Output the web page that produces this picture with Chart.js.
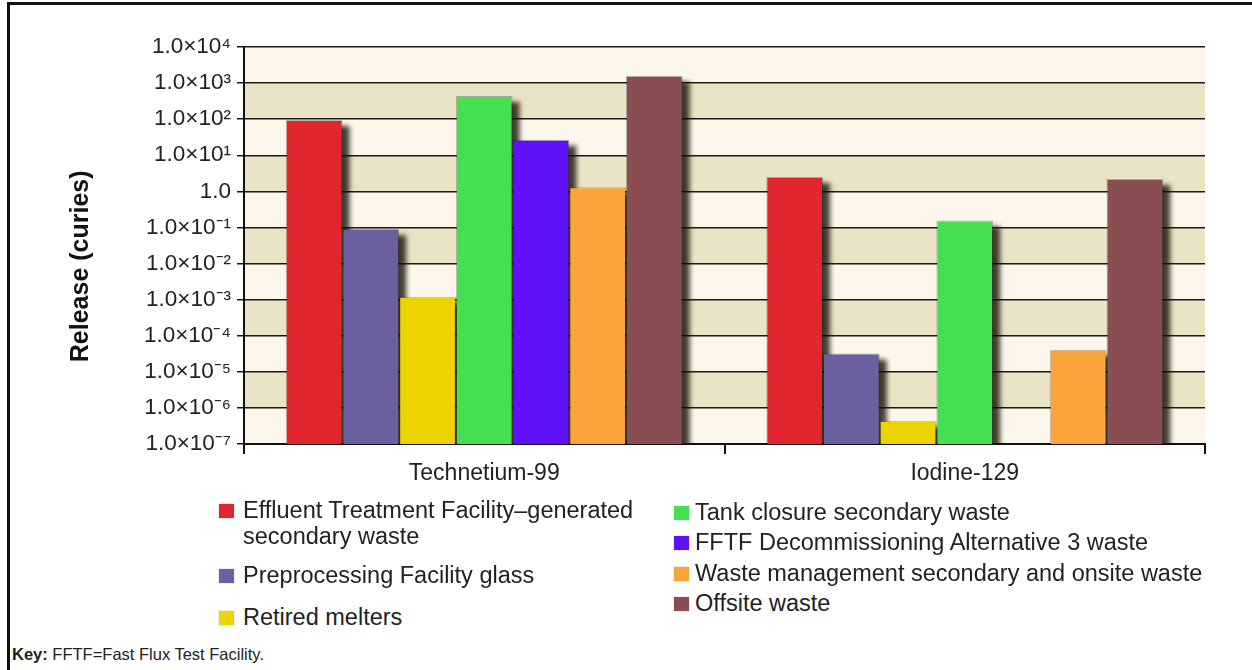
<!DOCTYPE html>
<html>
<head>
<meta charset="utf-8">
<script src="https://cdn.jsdelivr.net/npm/chart.js@4.4.1/dist/chart.umd.min.js"></script>
<style>
  html, body { margin: 0; padding: 0; background: #fff; }
  body { width: 1252px; height: 670px; position: relative; overflow: hidden; font-family: "Liberation Sans", Arial, sans-serif; color: #222; }
  #frame { position: absolute; left: 7px; top: 2px; width: 1300px; height: 700px; border-left: 3px solid #111; border-top: 3px solid #111; box-sizing: border-box; }
  #wrap { position: absolute; left: 0; top: 0; width: 1252px; height: 500px; }
  .lg { position: absolute; font-size: 23.5px; line-height: 26px; white-space: nowrap; color: #222; }
  .sw { position: absolute; width: 15px; height: 14px; box-shadow: 0 0 1px rgba(0,0,0,0.4); }
  #key { position: absolute; left: 12px; top: 645px; font-size: 16.5px; color: #222; }
</style>
</head>
<body>
<div id="frame"></div>
<div id="wrap"><canvas id="c" width="1252" height="500"></canvas></div>
<div id="legend"></div>
<div id="key"><b>Key:</b> FFTF=Fast Flux Test Facility.</div>
<script>
// ---- data ----
const categories = ['Technetium-99', 'Iodine-129'];
const seriesNames = [
  'Effluent Treatment Facility\u2013generated\nsecondary waste',
  'Preprocessing Facility glass',
  'Retired melters',
  'Tank closure secondary waste',
  'FFTF Decommissioning Alternative 3 waste',
  'Waste management secondary and onsite waste',
  'Offsite waste'
];
const seriesColors = ['#e2262e', '#6b5f9f', '#ecd400', '#45e04f', '#6010f6', '#fca43c', '#8a4d52'];
const effluentTreatment = [95, 2.5];
const preprocessingGlass = [0.09, 3.2e-5];
const retiredMelters = [1.2e-3, 4.4e-7];
const tankClosure = [440, 0.155];
const fftfDecommissioning = [27, null];
const wasteManagement = [1.3, 4.1e-5];
const offsiteWaste = [1600, 2.2];
const yTickValues = [1e-7, 1e-6, 1e-5, 1e-4, 1e-3, 1e-2, 1e-1, 1, 1e1, 1e2, 1e3, 1e4];
const yTickLabels = ['1.0\u00d710\u207b\u2077', '1.0\u00d710\u207b\u2076', '1.0\u00d710\u207b\u2075', '1.0\u00d710\u207b\u2074',
  '1.0\u00d710\u207b\u00b3', '1.0\u00d710\u207b\u00b2', '1.0\u00d710\u207b\u00b9', '1.0',
  '1.0\u00d710\u00b9', '1.0\u00d710\u00b2', '1.0\u00d710\u00b3', '1.0\u00d710\u2074'];
const seriesValues = [effluentTreatment, preprocessingGlass, retiredMelters, tankClosure, fftfDecommissioning, wasteManagement, offsiteWaste];

// ---- legend (HTML) ----
const legendPos = [
  {sx: 219, tx: 243, top: 497}, {sx: 219, tx: 243, top: 562}, {sx: 219, tx: 243, top: 604},
  {sx: 674, tx: 695, top: 499}, {sx: 674, tx: 695, top: 529}, {sx: 674, tx: 695, top: 560}, {sx: 674, tx: 695, top: 590}
];
const lg = document.getElementById('legend');
seriesNames.forEach((n, i) => {
  const p = legendPos[i];
  const sw = document.createElement('div');
  sw.className = 'sw';
  sw.style.left = p.sx + 'px';
  sw.style.top = (p.top + 7) + 'px';
  sw.style.background = seriesColors[i];
  lg.appendChild(sw);
  const t = document.createElement('div');
  t.className = 'lg';
  t.style.left = p.tx + 'px';
  t.style.top = p.top + 'px';
  t.innerHTML = n.split('\n').join('<br>');
  lg.appendChild(t);
});

// ---- plugins ----
const bands = {
  id: 'bands',
  beforeDraw(chart) {
    const {ctx, chartArea: a, scales: {y}} = chart;
    ctx.save();
    for (let e = -7; e < 4; e++) {
      const y1 = y.getPixelForValue(Math.pow(10, e));
      const y2 = y.getPixelForValue(Math.pow(10, e + 1));
      ctx.fillStyle = (e % 2 === 0) ? '#ebe3c5' : '#fcf7ea';
      ctx.fillRect(a.left, y2, a.right - a.left, y1 - y2);
    }
    ctx.restore();
  }
};
const shadow = {
  id: 'shadow',
  beforeDatasetsDraw(chart) {
    const {ctx, chartArea: a} = chart;
    ctx.save();
    ctx.beginPath();
    ctx.rect(a.left, a.top, a.right - a.left, a.bottom - a.top);
    ctx.clip();
    ctx.filter = 'blur(2.5px)';
    ctx.fillStyle = 'rgba(20,15,5,0.8)';
    chart.data.datasets.forEach((ds, i) => {
      chart.getDatasetMeta(i).data.forEach((bar) => {
        if (bar.skip || bar.y == null || isNaN(bar.y)) return;
        const w = bar.width;
        ctx.fillRect(bar.x - w / 2 + 7, bar.y + 6, w, bar.base - bar.y);
      });
    });
    ctx.restore();
  }
};

Chart.defaults.font.family = '"Liberation Sans", Arial, sans-serif';
Chart.defaults.color = '#222';

new Chart(document.getElementById('c'), {
  type: 'bar',
  data: {
    labels: categories,
    datasets: seriesNames.map((n, i) => ({
      label: n.replace('\n', ' '),
      data: seriesValues[i],
      backgroundColor: seriesColors[i],
      borderColor: 'rgba(0,0,0,0.25)',
      borderWidth: 1,
      categoryPercentage: 0.826,
      barPercentage: 1.0
    }))
  },
  options: {
    responsive: false,
    animation: false,
    layout: { padding: { left: 0, right: 47, top: 47, bottom: 0 } },
    plugins: { legend: { display: false }, tooltip: { enabled: false } },
    scales: {
      x: {
        grid: {
          offset: true,
          drawOnChartArea: true,
          color: (c) => c.index === 2 ? '#111' : 'rgba(0,0,0,0)',
          tickColor: '#111',
          tickLength: 10,
          lineWidth: 2
        },
        border: { color: '#111', width: 2 },
        ticks: { font: { size: 23 }, color: '#222', padding: 6 },
        afterFit(s) { s.height = 56; }
      },
      y: {
        type: 'logarithmic',
        min: 1e-7,
        max: 1e4,
        afterBuildTicks(s) { s.ticks = yTickValues.map(v => ({ value: v, major: true })); },
        afterFit(s) { s.width = 244; },
        grid: { color: '#1a1a1a', lineWidth: 1.5, tickLength: 7, tickColor: '#1a1a1a' },
        border: { color: '#111', width: 2 },
        ticks: {
          autoSkip: false,
          font: { size: 22.5 },
          color: '#222',
          padding: 6,
          callback: (v, i) => yTickLabels[i]
        },
        title: {
          display: true,
          text: 'Release (curies)      ',
          font: { size: 25, weight: 'bold' },
          color: '#111',
          padding: { top: 66, bottom: 0 }
        }
      }
    }
  },
  plugins: [bands, shadow]
});
</script>
</body>
</html>
